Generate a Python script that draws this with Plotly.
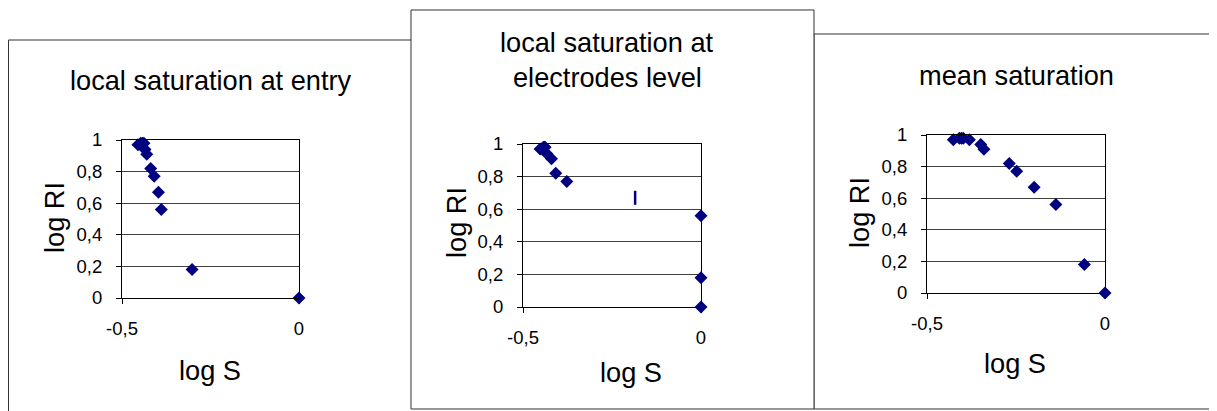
import plotly.graph_objects as go

W, H = 1217, 411

# ---------------- data ----------------
panel_titles = ["local saturation at entry",
                "local saturation at<br>electrodes level",
                "mean saturation"]
x_label = "log S"
y_label = "log RI"

log_RI = [0.97, 0.98, 0.98, 0.98, 0.97, 0.94, 0.91, 0.82, 0.77, 0.67, 0.56, 0.18, 0.0]

logS_entry = [-0.455, -0.447, -0.442, -0.438, -0.444, -0.435, -0.43, -0.419, -0.409,
              -0.397, -0.389, -0.302, 0.0]
logS_electrodes = [-0.452, -0.443, -0.44, -0.438, -0.446, -0.433, -0.42, -0.408, -0.377,
                   -0.185, 0.0, 0.0, 0.0]
logS_mean = [-0.426, -0.409, -0.403, -0.398, -0.381, -0.349, -0.34, -0.269, -0.248,
             -0.199, -0.138, -0.058, 0.0]

symbols_entry = ["diamond"] * 13
symbols_electrodes = ["diamond"] * 9 + ["line-ns"] + ["diamond"] * 3
symbols_mean = ["diamond"] * 13

x_tick_vals = [-0.5, 0]
x_tick_text = ["-0,5", "0"]
y_tick_vals = [0, 0.2, 0.4, 0.6, 0.8, 1.0]
y_tick_text = ["0", "0,2", "0,4", "0,6", "0,8", "1"]

# ---------------- layout helpers ----------------
# the page body has an 8px margin, so screen positions are shifted by 8px
OFF = 8

def fx(p):
    return max(p - OFF, 0.5) / W

def fy(p):
    return 1 - max(p - OFF, 0.5) / H

NAVY = "#000080"
FONT = "Liberation Sans, Arial, sans-serif"
FRAME = "#333333"

plot_boxes = [((122, 299), (140, 298)),
              ((523, 701), (144, 307)),
              ((927, 1105), (135, 293))]
title_pos = [[(210, 80)], [(607, 42), (607, 77)], [(1016, 75)]]
xlab_pos = [(210, 370), (631, 372), (1015, 363)]
ylab_pos = [(54, 218), (456, 223), (860, 213)]

series = [(logS_entry, symbols_entry),
          (logS_electrodes, symbols_electrodes),
          (logS_mean, symbols_mean)]

fig = go.Figure()

for i, (xs, syms) in enumerate(series):
    n = "" if i == 0 else str(i + 1)
    lw = [2.5 if s == "line-ns" else 0 for s in syms]
    fig.add_trace(go.Scatter(
        x=xs, y=log_RI, mode="markers",
        xaxis="x" + n, yaxis="y" + n,
        cliponaxis=False, showlegend=False,
        marker=dict(symbol=syms, size=10, color=NAVY,
                    line=dict(color=NAVY, width=lw)),
    ))

layout = dict(
    width=W, height=H, autosize=False,
    margin=dict(l=0, r=0, t=0, b=0, pad=0, autoexpand=False),
    paper_bgcolor="white", plot_bgcolor="white",
    font=dict(family=FONT, color="black"),
    shapes=[], annotations=[],
)

for i, ((x0, x1), (y0, y1)) in enumerate(plot_boxes):
    n = "" if i == 0 else str(i + 1)
    layout["xaxis" + n] = dict(
        domain=[fx(x0), fx(x1)], range=[-0.5, 0], anchor="y" + n,
        tickvals=x_tick_vals, ticktext=x_tick_text,
        ticks="outside", ticklen=5, tickcolor="black",
        showline=True, linecolor="black", linewidth=1, mirror=True,
        showgrid=False, zeroline=False, automargin=False,
        tickfont=dict(size=18.5, family=FONT, color="black"),
        ticklabelstandoff=9, fixedrange=True,
    )
    layout["yaxis" + n] = dict(
        domain=[fy(y1), fy(y0)], range=[0, 1], anchor="x" + n,
        tickvals=y_tick_vals, ticktext=y_tick_text,
        ticks="outside", ticklen=5, tickcolor="black",
        showline=True, linecolor="black", linewidth=1, mirror=True,
        showgrid=True, gridcolor="#404040", gridwidth=1, zeroline=False,
        automargin=False,
        tickfont=dict(size=18.5, family=FONT, color="black"),
        ticklabelstandoff=10, fixedrange=True,
    )

def frame(pts, fill_box):
    # white background of the panel, then its visible border as an open path
    a, b, c, d = fill_box
    layout["shapes"].append(dict(
        type="rect", xref="paper", yref="paper",
        x0=fx(a), x1=fx(c), y0=fy(d), y1=fy(b),
        line=dict(width=0), fillcolor="white", layer="below"))
    path = "M " + " L ".join("%f,%f" % (fx(px), fy(py)) for px, py in pts)
    layout["shapes"].append(dict(
        type="path", xref="paper", yref="paper", path=path,
        line=dict(color=FRAME, width=1), fillcolor="rgba(0,0,0,0)", layer="below"))

# panel 1 (left + top border, runs under panel 2 and off the bottom)
frame([(7, 440), (7, 40), (500, 40)], (7, 40, 500, 440))
# panel 3 (left, top and bottom border, runs off the right edge)
frame([(1240, 34), (814, 34), (814, 409), (1240, 409)], (814, 34, 1240, 409))
# panel 2 (full box, on top)
frame([(411, 10), (814, 10), (814, 409), (411, 409), (411, 10)], (411, 10, 814, 409))

for i in range(3):
    lines = panel_titles[i].split("<br>")
    for txt, (px, py) in zip(lines, title_pos[i]):
        layout["annotations"].append(dict(
            text=txt, x=fx(px), y=fy(py), xref="paper", yref="paper",
            xanchor="center", yanchor="middle", showarrow=False,
            font=dict(size=27.2, family=FONT, color="black")))
    px, py = xlab_pos[i]
    layout["annotations"].append(dict(
        text=x_label, x=fx(px), y=fy(py), xref="paper", yref="paper",
        xanchor="center", yanchor="middle", showarrow=False,
        font=dict(size=27.2, family=FONT, color="black")))
    px, py = ylab_pos[i]
    layout["annotations"].append(dict(
        text=y_label, x=fx(px), y=fy(py), xref="paper", yref="paper",
        xanchor="center", yanchor="middle", showarrow=False, textangle=-90,
        font=dict(size=27.2, family=FONT, color="black")))

fig.update_layout(**layout)
fig.write_html("out.html")
